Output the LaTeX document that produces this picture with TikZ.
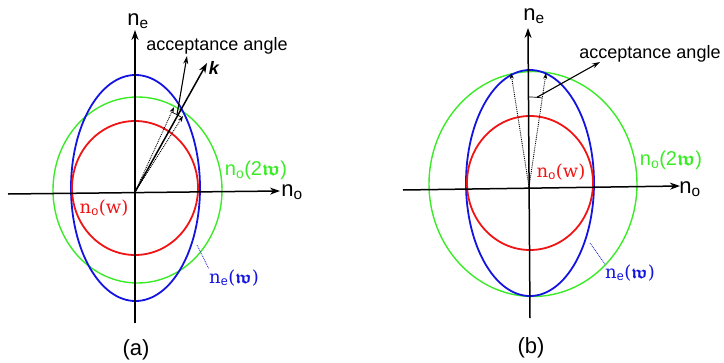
\documentclass[tikz,border=0pt]{standalone}
\usepackage{amsmath,amssymb}
\usepackage{fontspec}
\setsansfont{Liberation Sans}
\newfontfamily\serdv{DejaVu Serif}
\usetikzlibrary{arrows.meta}

\definecolor{ellred}{RGB}{240,20,20}
\definecolor{ellblue}{RGB}{20,20,225}
\definecolor{ellgreen}{RGB}{60,235,40}

\begin{document}
\begin{tikzpicture}[x=1pt, y=-1pt, >=Stealth,
  axisline/.style={line width=1.5pt, -{Stealth[length=10pt,width=7pt]}},
  thinarrow/.style={line width=1.1pt, -{Stealth[length=8pt,width=5pt]}},
  dotarrow/.style={densely dotted, line width=0.9pt, -{Stealth[length=6pt,width=4pt]}},
  leader/.style={ellblue, densely dotted, line width=0.8pt},
  every node/.style={inner sep=0pt},
  axlabel/.style={anchor=base, font=\sffamily\fontsize{22}{26}\selectfont},
  txtlabel/.style={anchor=base, font=\sffamily\fontsize{18}{20}\selectfont},
  serlabel/.style={anchor=base, font=\serdv\fontsize{18}{22}\selectfont}]
  \useasboundingbox (0,0) rectangle (724,362);

  % (a)
  \coordinate (oa) at (135,192);
  \coordinate (xa0) at (8,194);
  \coordinate (xa1) at (280,191);
  \coordinate (ya0) at (135,323);
  \coordinate (ya1) at (135,30);
  \draw[ellgreen, line width=1.4pt] (137.5,190) ellipse [x radius=84.5pt, y radius=93pt];
  \draw[ellblue, line width=1.8pt] (135.5,188) ellipse [x radius=64.5pt, y radius=113pt];
  \draw[ellred, line width=1.8pt] (135,188) ellipse [x radius=63pt, y radius=67pt];
  \draw[axisline] (xa0) -- (xa1);
  \draw[axisline] (ya0) -- (ya1);
  \node[axlabel] (nea) at (138,25) {n\textsubscript{e}};
  \node[axlabel] (noa) at (292,196) {n\textsubscript{o}};
  \coordinate (dta) at (174,107);
  \coordinate (dtb) at (183,116);
  \coordinate (kta) at (207,63);
  \draw[dotarrow] (oa) -- (dta);
  \draw[dotarrow] (oa) -- (dtb);
  \draw[line width=1.5pt, -{Stealth[length=10pt,width=7pt]}] (oa) -- (kta);
  \node[anchor=base, font=\sffamily\bfseries\itshape\fontsize{18}{20}\selectfont] (ka) at (214,74) {k};
  \draw[line width=0.7pt] (oa) ++(58:88pt) arc[start angle=58, end angle=65, radius=88pt];
  \path (oa) ++(61.5:88pt) coordinate (arca);
  \coordinate (acca) at (187,56);
  \draw[thinarrow] (arca) -- (acca);
  \node[txtlabel] (angtxta) at (217,50) {acceptance angle};
  \node[serlabel, text=ellred] (nowa) at (104,213) {n\textsubscript{\sffamily o}(w)};
  \node[anchor=base, text=ellgreen, font=\sffamily\fontsize{20}{24}\selectfont] (no2a) at (256,175)
    {n\textsubscript{o}(2$\boldsymbol{\mathfrak{w}}$)};
  \node[serlabel, text=ellblue] (newa) at (234,283) {n\textsubscript{\sffamily e}($\boldsymbol{\mathfrak{w}}$)};
  \coordinate (lda) at (197,245);
  \draw[leader] (lda) -- (newa.north west);
  \node[font=\sffamily\fontsize{22}{26}\selectfont] (capa) at (136,350) {(a)};

  % (b)
  \coordinate (ob) at (529,187);
  \coordinate (xb0) at (403,190);
  \coordinate (xb1) at (680,186);
  \coordinate (yb0) at (530,318);
  \coordinate (yb1) at (528,28);
  \draw[ellgreen, line width=1.4pt] (533,184) ellipse [x radius=104pt, y radius=112.5pt];
  \draw[ellblue, line width=1.8pt] (530,183) ellipse [x radius=64pt, y radius=113pt];
  \draw[ellred, line width=1.8pt] (530,183) ellipse [x radius=63pt, y radius=67pt];
  \draw[axisline] (xb0) -- (xb1);
  \draw[axisline] (yb0) -- (yb1);
  \node[axlabel] (neb) at (534,20) {n\textsubscript{e}};
  \node[axlabel] (nob) at (690,193) {n\textsubscript{o}};
  \coordinate (dtc) at (511,73);
  \coordinate (dtd) at (546,73);
  \draw[dotarrow] (ob) -- (dtc);
  \draw[dotarrow] (ob) -- (dtd);
  \draw[line width=0.7pt] (ob) ++(81.5:90pt) arc[start angle=81.5, end angle=90, radius=90pt];
  \path (ob) ++(85:90pt) coordinate (arcb);
  \coordinate (accb) at (600,62);
  \draw[thinarrow] (arcb) -- (accb);
  \node[txtlabel] (angtxtb) at (650,58) {acceptance angle};
  \node[serlabel, text=ellred] (nowb) at (561,177) {n\textsubscript{\sffamily o}(w)};
  \node[anchor=base, text=ellgreen, font=\sffamily\fontsize{20}{24}\selectfont] (no2b) at (671,165)
    {n\textsubscript{o}(2$\boldsymbol{\mathfrak{w}}$)};
  \node[serlabel, text=ellblue] (newb) at (630,278) {n\textsubscript{\sffamily e}($\boldsymbol{\mathfrak{w}}$)};
  \coordinate (ldb) at (590,243);
  \draw[leader] (ldb) -- (newb.north west);
  \node[font=\sffamily\fontsize{22}{26}\selectfont] (capb) at (531,348) {(b)};
\end{tikzpicture}
\end{document}
